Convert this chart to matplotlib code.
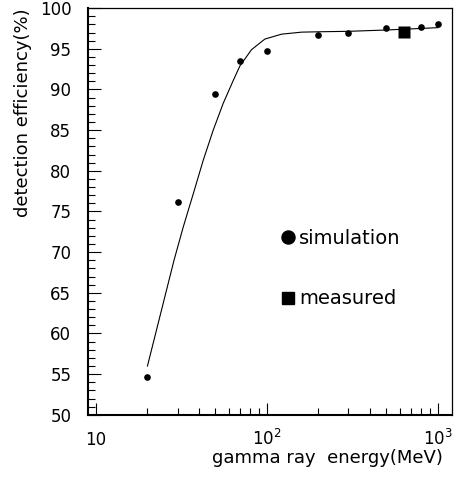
# efficiency vs gamma energy, simulation + measured + fitted curve

import matplotlib
matplotlib.use("Agg")
import matplotlib.pyplot as plt
from matplotlib.lines import Line2D
from matplotlib.ticker import FixedLocator, MultipleLocator, NullFormatter

plt.rcParams['font.family'] = ['DejaVu Sans']
plt.rcParams['mathtext.default'] = 'regular'

# simulated points
sim_energy = [20, 30, 50, 70, 100, 200, 300, 500, 800, 1000]
sim_eff = [54.6, 76.2, 89.5, 93.45, 94.7, 96.7, 96.9, 97.6, 97.7, 98.0]

# measured point
meas_energy = [630]
meas_eff = [97.05]

# fitted curve
fit_energy = [20, 28.6, 32.4, 37.1, 42.4, 48.5, 55.5, 63.5, 69.5, 81.3,
              97.3, 121.8, 159.6, 209, 300, 480, 700, 1000]
fit_eff = [56.0, 69.0, 73.1, 77.2, 81.3, 85.0, 88.3, 91.1, 92.9, 94.9,
           96.2, 96.8, 97.05, 97.1, 97.15, 97.3, 97.45, 97.6]

xticks = [10, 100, 1000]
xtick_labels = ['10', '$10^{2}$', '$10^{3}$']
xminor = [20, 30, 40, 50, 60, 70, 80, 90, 200, 300, 400, 500, 600, 700, 800, 900]

fig = plt.figure(figsize=(4.56, 4.79), dpi=100)
ax = fig.add_axes([0.193, 0.134, 0.798, 0.849])

ax.plot(fit_energy, fit_eff, color='black', lw=0.8)
ax.plot(sim_energy, sim_eff, 'o', color='black', ms=4.8, mec='none')
ax.plot(meas_energy, meas_eff, 's', color='black', ms=8, mec='none')

ax.set_xscale('log')
ax.set_xlim(8.98, 1208)
ax.set_ylim(50, 100)

ax.xaxis.set_major_locator(FixedLocator(xticks))
ax.set_xticklabels(xtick_labels)
ax.xaxis.set_minor_locator(FixedLocator(xminor))
ax.xaxis.set_minor_formatter(NullFormatter())
ax.yaxis.set_major_locator(MultipleLocator(5))
ax.yaxis.set_minor_locator(MultipleLocator(1))

ax.tick_params(which='both', direction='in', top=False, right=False, width=0.8)
ax.tick_params(which='major', length=9, labelsize=12)
ax.tick_params(axis='y', pad=12)
ax.tick_params(axis='x', pad=22)
plt.setp(ax.get_xticklabels(), va='baseline')
ax.tick_params(which='minor', length=5)

for s in ['left', 'bottom']:
    ax.spines[s].set_linewidth(1.5)
for s in ['top', 'right']:
    ax.spines[s].set_linewidth(0.9)

ax.set_ylabel('detection efficiency(%)', fontsize=13, loc='top')
ax.yaxis.set_label_coords(-0.155, 1.0)
ax.set_xlabel('gamma ray  energy(MeV)', fontsize=13, ha='right')
ax.xaxis.set_label_coords(0.975, -0.083)

handles = [Line2D([], [], ls='none', marker='o', color='black', ms=9.4),
           Line2D([], [], ls='none', marker='s', color='black', ms=8.6)]
ax.legend(handles, ['simulation', 'measured'], loc='upper left',
          bbox_to_anchor=(0.53, 0.458), frameon=False, fontsize=14,
          handlelength=0.7, handletextpad=0.25, labelspacing=2.15,
          borderpad=0, borderaxespad=0)

fig.savefig('out.png', dpi=100)
